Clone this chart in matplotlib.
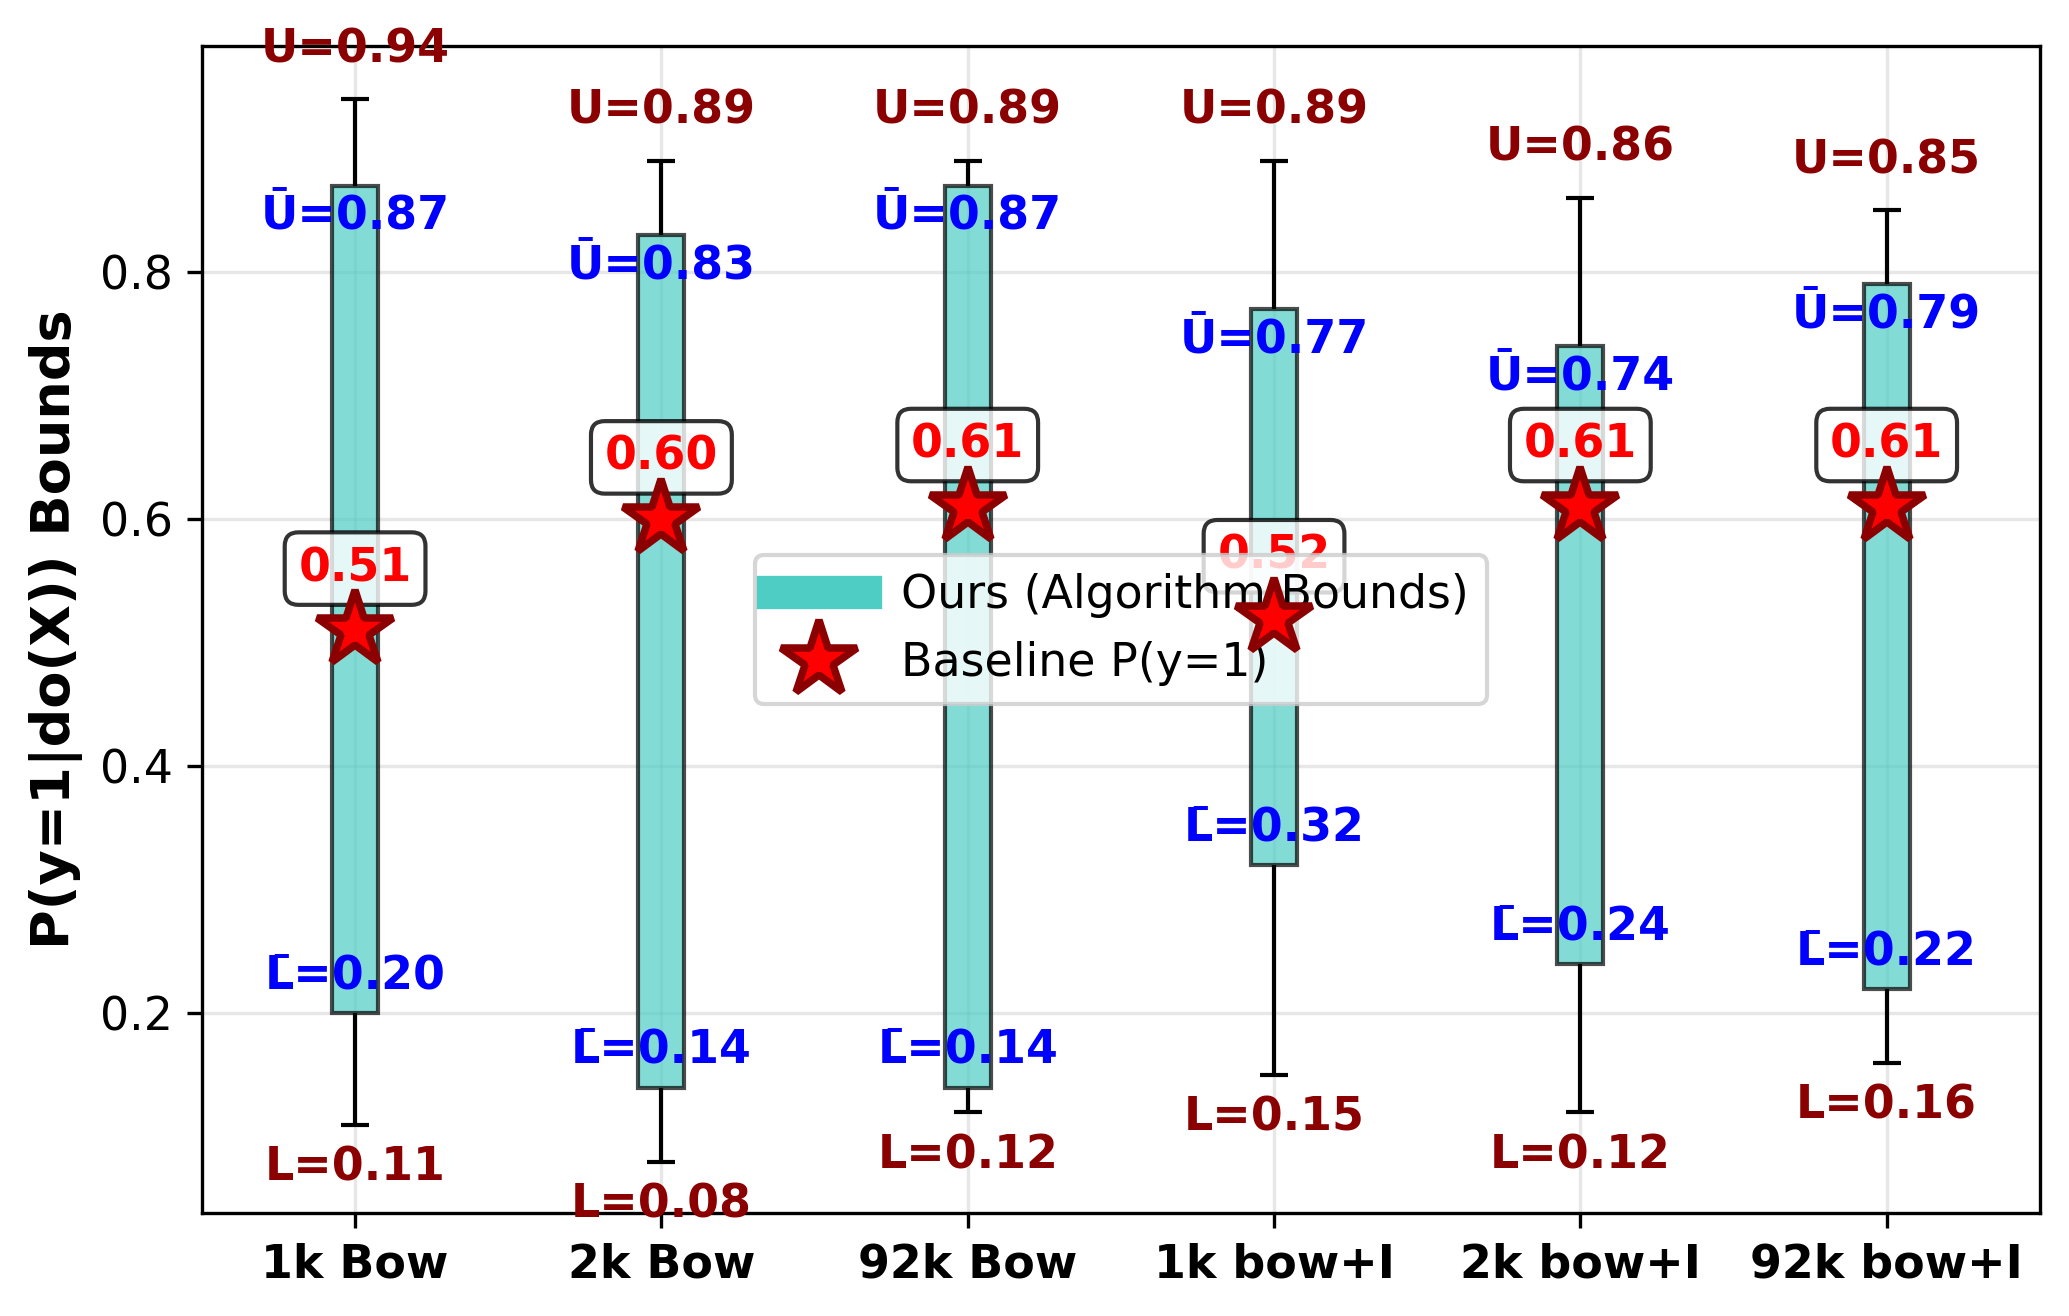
import matplotlib
matplotlib.use("Agg")
import matplotlib.pyplot as plt
from matplotlib.lines import Line2D

# values
methods = ['1k Bow', '2k Bow', '92k Bow', '1k bow+I', '2k bow+I', '92k bow+I']
U = [0.94, 0.89, 0.89, 0.89, 0.86, 0.85]
U_bar = [0.87, 0.83, 0.87, 0.77, 0.74, 0.79]
L_bar = [0.20, 0.14, 0.14, 0.32, 0.24, 0.22]
L = [0.11, 0.08, 0.12, 0.15, 0.12, 0.16]
baseline = [0.51, 0.60, 0.61, 0.52, 0.61, 0.61]

x = list(range(len(methods)))

fig = plt.figure(figsize=(2069 / 300, 1316 / 300), dpi=300)
ax = fig.add_axes([0.0976, 0.0783, 0.8883, 0.8868])

# algorithm bounds (bars from L_bar to U_bar)
heights = [u - l for u, l in zip(U_bar, L_bar)]
ax.bar(x, heights, bottom=L_bar, width=0.15, color='#4ECDC4', alpha=0.7,
       edgecolor='black', linewidth=1.0, zorder=2)

# whiskers out to the outer bounds
ax.vlines(x, U_bar, U, color='black', linewidth=1.0, zorder=2)
ax.vlines(x, L, L_bar, color='black', linewidth=1.0, zorder=2)
ax.plot(x, U, linestyle='none', marker='_', markersize=6.5, mew=1.0, color='black', zorder=2)
ax.plot(x, L, linestyle='none', marker='_', markersize=6.5, mew=1.0, color='black', zorder=2)

# baseline stars
ax.plot(x, baseline, linestyle='none', marker='*', markersize=19, color='red',
        markeredgecolor='darkred', markeredgewidth=1.8, zorder=6)

for i in x:
    ax.text(i, U[i] + 0.04, f'U={U[i]:.2f}', ha='center', va='center',
            color='darkred', fontsize=11, fontweight='bold', zorder=3)
    ax.text(i, L[i] - 0.035, f'L={L[i]:.2f}', ha='center', va='center',
            color='darkred', fontsize=11, fontweight='bold', zorder=3)
    ax.text(i, U_bar[i] - 0.025, f'\u016a={U_bar[i]:.2f}', ha='center', va='center',
            color='blue', fontsize=11, fontweight='bold', zorder=3)
    ax.text(i, L_bar[i] + 0.03, f'L\u0304={L_bar[i]:.2f}', ha='center', va='center',
            color='blue', fontsize=11, fontweight='bold', zorder=3)
    ax.text(i, baseline[i] + 0.05, f'{baseline[i]:.2f}', ha='center', va='center',
            color='red', fontsize=11, fontweight='bold', zorder=3,
            bbox=dict(boxstyle='round,pad=0.3', facecolor='white', alpha=0.8,
                      edgecolor='black', linewidth=1.0))

ax.set_xlim(-0.5, 5.5)
ax.set_ylim(0.0385, 0.983)
ax.set_xticks(x)
ax.set_xticklabels(methods, fontsize=11, fontweight='bold')
ax.set_yticks([0.2, 0.4, 0.6, 0.8])
ax.tick_params(axis='y', labelsize=11)
ax.set_ylabel('P(y=1|do(X)) Bounds', fontsize=13, fontweight='bold')
ax.grid(True, alpha=0.3)
ax.set_axisbelow(True)

handles = [Line2D([0], [0], color='#4ECDC4', lw=8, label='Ours (Algorithm Bounds)'),
           Line2D([], [], linestyle='none', marker='*', markersize=19, color='red',
                  markeredgecolor='darkred', markeredgewidth=1.8, label='Baseline P(y=1)')]
ax.legend(handles=handles, loc='center', fontsize=11, framealpha=0.8)

fig.savefig('out.png', dpi=300)
